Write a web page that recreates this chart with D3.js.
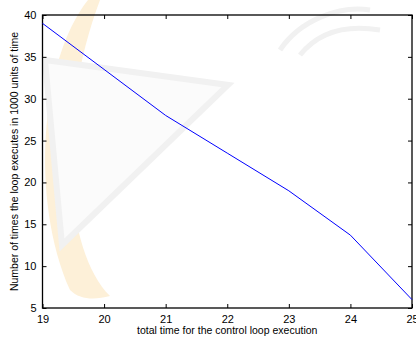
<!DOCTYPE html>
<html>
<head>
<meta charset="utf-8">
<script src="https://cdn.jsdelivr.net/npm/d3@7"></script>
<style>
  html, body { margin: 0; padding: 0; background: #fff; }
  svg { display: block; }
  text { font-family: "Liberation Sans", Arial, sans-serif; fill: #000; }
</style>
</head>
<body>
<svg id="chart" width="416" height="338"></svg>
<script>
// ---- data ----
const xValues = [19, 20, 21, 22, 23, 24, 25];
const yValues = [39, 33.5, 28, 23.5, 19, 13.7, 6];
const xTicks = [19, 20, 21, 22, 23, 24, 25];
const yTicks = [5, 10, 15, 20, 25, 30, 35, 40];
const xLabel = "total time for the control loop execution";
const yLabel = "Number of times the loop executes in 1000 units of time";

const svg = d3.select("#chart");
const W = 416, H = 338;
const m = { left: 42.5, right: 4, top: 15, bottom: 30 };
const x = d3.scaleLinear().domain([19, 25]).range([m.left, W - m.right]);
const y = d3.scaleLinear().domain([5, 40]).range([H - m.bottom, m.top]);

// faint background watermark (decorative)
const wm = svg.append("g");
wm.append("path")
  .attr("d", "M88,0 C40,60 30,200 70,290 C80,300 95,300 110,296 C65,250 55,120 100,0 Z")
  .attr("fill", "#fdf0d8");
wm.append("path")
  .attr("d", "M45,60 L228,85 L62,245 Z")
  .attr("fill", "#fbfbfb").attr("stroke", "#f1f1f1").attr("stroke-width", 6);
wm.append("path")
  .attr("d", "M280,50 C300,20 340,5 370,10 M300,55 C320,30 350,25 380,30")
  .attr("fill", "none").attr("stroke", "#f1f1f1").attr("stroke-width", 5);

const tickLen = 4;
const g = svg.append("g");

// x axis bottom
const xAxis = d3.axisBottom(x).tickValues(xTicks).tickSize(-tickLen).tickPadding(7).tickFormat(d3.format("d"));
const xa = g.append("g").attr("transform", `translate(0,${y(5)})`).call(xAxis);
xa.select(".domain").remove();
xa.selectAll("text").attr("font-size", 11).style("font-family", '"Liberation Sans", Arial, sans-serif');
// x axis top ticks
const xaTop = g.append("g").attr("transform", `translate(0,${y(40)})`)
  .call(d3.axisTop(x).tickValues(xTicks).tickSize(-tickLen).tickFormat(""));
xaTop.select(".domain").remove();

// y axis left
const yAxis = d3.axisLeft(y).tickValues(yTicks).tickSize(-tickLen).tickPadding(6).tickFormat(d3.format("d"));
const ya = g.append("g").attr("transform", `translate(${x(19)},0)`).call(yAxis);
ya.select(".domain").remove();
ya.selectAll("text").attr("font-size", 11).style("font-family", '"Liberation Sans", Arial, sans-serif');
// y axis right ticks
const yaR = g.append("g").attr("transform", `translate(${x(25)},0)`)
  .call(d3.axisRight(y).tickValues(yTicks).tickSize(-tickLen).tickFormat(""));
yaR.select(".domain").remove();

// frame
g.append("rect")
  .attr("x", x(19)).attr("y", y(40))
  .attr("width", x(25) - x(19)).attr("height", y(5) - y(40))
  .attr("fill", "none").attr("stroke", "#000").attr("stroke-width", 1.3);

// line
const line = d3.line().x((d, i) => x(xValues[i])).y(d => y(d));
g.append("path").datum(yValues)
  .attr("d", line)
  .attr("fill", "none").attr("stroke", "#0000ff").attr("stroke-width", 1);

// labels
svg.append("text").attr("x", (x(19) + x(25)) / 2).attr("y", 334)
  .attr("text-anchor", "middle").attr("font-size", 10.5).text(xLabel);
svg.append("text")
  .attr("transform", `translate(18,${(y(5) + y(40)) / 2}) rotate(-90)`)
  .attr("text-anchor", "middle").attr("font-size", 10.5).text(yLabel);
</script>
</body>
</html>
